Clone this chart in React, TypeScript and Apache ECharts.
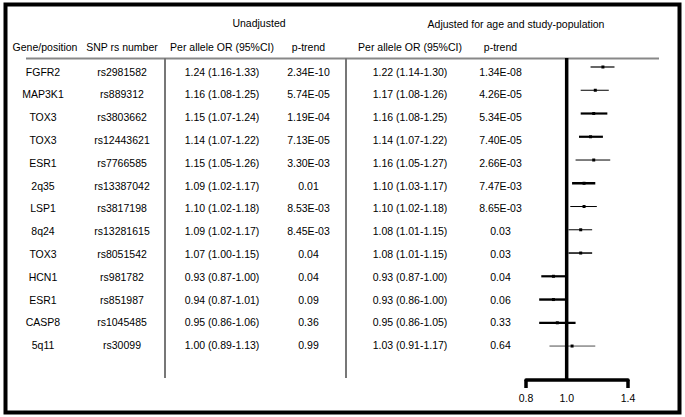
import React, { useEffect, useRef } from "react";
import * as echarts from "echarts";

const genes = ["FGFR2", "MAP3K1", "TOX3", "TOX3", "ESR1", "2q35", "LSP1", "8q24", "TOX3", "HCN1", "ESR1", "CASP8", "5q11"];
const snps = ["rs2981582", "rs889312", "rs3803662", "rs12443621", "rs7766585", "rs13387042", "rs3817198", "rs13281615", "rs8051542", "rs981782", "rs851987", "rs1045485", "rs30099"];
const unadjOR = [1.24, 1.16, 1.15, 1.14, 1.15, 1.09, 1.10, 1.09, 1.07, 0.93, 0.94, 0.95, 1.00];
const unadjLo = [1.16, 1.08, 1.07, 1.07, 1.05, 1.02, 1.02, 1.02, 1.00, 0.87, 0.87, 0.86, 0.89];
const unadjHi = [1.33, 1.25, 1.24, 1.22, 1.26, 1.17, 1.18, 1.17, 1.15, 1.00, 1.01, 1.06, 1.13];
const unadjP = ["2.34E-10", "5.74E-05", "1.19E-04", "7.13E-05", "3.30E-03", "0.01", "8.53E-03", "8.45E-03", "0.04", "0.04", "0.09", "0.36", "0.99"];
const adjOR = [1.22, 1.17, 1.16, 1.14, 1.16, 1.10, 1.10, 1.08, 1.08, 0.93, 0.93, 0.95, 1.03];
const adjLo = [1.14, 1.08, 1.08, 1.07, 1.05, 1.03, 1.02, 1.01, 1.01, 0.87, 0.86, 0.86, 0.91];
const adjHi = [1.30, 1.26, 1.25, 1.22, 1.27, 1.17, 1.18, 1.15, 1.15, 1.00, 1.00, 1.05, 1.17];
const adjP = ["1.34E-08", "4.26E-05", "5.34E-05", "7.40E-05", "2.66E-03", "7.47E-03", "8.65E-03", "0.03", "0.03", "0.04", "0.06", "0.33", "0.64"];
const ciWeights = [1.2, 1, 2.2, 2.2, 1, 2.5, 1, 1, 1.5, 2.2, 2.4, 2.2, 0.7];
const columnHeaders = ["Gene/position", "SNP rs number", "Per allele OR (95%CI)", "p-trend", "Per allele OR (95%CI)", "p-trend"];
const groupHeaders = ["Unadjusted", "Adjusted for age and study-population"];
const xTicks = [0.8, 1.4];
const xTickLabels = [0.8, 1.0, 1.4];

const fmt = (v: number) => v.toFixed(2);
const ciText = (o: number[], l: number[], h: number[]) =>
  o.map((v, i) => `${fmt(v)} (${fmt(l[i])}-${fmt(h[i])})`);

const FONT = "'Liberation Sans', Arial, sans-serif";
const FS = 10.5;

export default function App() {
  const ref = useRef<HTMLDivElement>(null);
  useEffect(() => {
    if (!ref.current) return;
    const chart = echarts.init(ref.current, null, { renderer: "svg" });
    const ANCHOR = 660;
    const colCenters = [43, 122, 222, 308.5, 410, 500.5];
    const colAxis = (data: string[], cx: number) => ({
      type: "category",
      gridIndex: 1,
      data,
      inverse: true,
      position: "left",
      offset: ANCHOR - cx,
      axisLine: { show: false },
      axisTick: { show: false },
      splitLine: { show: false },
      axisLabel: { margin: 0, align: "center", interval: 0, color: "#000", fontFamily: FONT, fontSize: FS },
    });
    const rows = adjOR.map((v, i) => [i, v, adjLo[i], adjHi[i]]);
    const yMin = -0.387;
    const yMax = 13.46;
    const txt = (text: string, x: number, y: number) => ({
      type: "text",
      x,
      y,
      style: { text, fill: "#000", font: `${FS}px ${FONT}`, textAlign: "center", textVerticalAlign: "middle" },
    });
    chart.setOption({
      animation: false,
      grid: [
        { left: 526, right: 57, top: 58, bottom: 37 },
        { left: ANCHOR, width: 10, top: 60.1, height: 296.4 },
      ],
      xAxis: [
        {
          type: "log",
          gridIndex: 0,
          logBase: 10,
          min: 0.8,
          max: 1.4,
          axisLine: { onZero: false, lineStyle: { color: "#000", width: 3.5 } },
          axisTick: { customValues: xTicks, length: 8, lineStyle: { color: "#000", width: 3.5 } },
          axisLabel: {
            customValues: xTickLabels,
            margin: 12,
            color: "#000",
            fontFamily: FONT,
            fontSize: FS,
            formatter: (v: number) => v.toFixed(1),
          },
          splitLine: { show: false },
        },
        { type: "value", gridIndex: 1, show: false, min: 0, max: 1 },
      ],
      yAxis: [
        { type: "value", gridIndex: 0, min: yMin, max: yMax, inverse: true, show: false },
        colAxis(genes, colCenters[0]),
        colAxis(snps, colCenters[1]),
        colAxis(ciText(unadjOR, unadjLo, unadjHi), colCenters[2]),
        colAxis(unadjP, colCenters[3]),
        colAxis(ciText(adjOR, adjLo, adjHi), colCenters[4]),
        colAxis(adjP, colCenters[5]),
      ],
      series: [
        {
          type: "line",
          xAxisIndex: 0,
          yAxisIndex: 0,
          data: [[1, yMin], [1, yMax]],
          symbol: "none",
          lineStyle: { color: "#000", width: 3.5 },
          silent: true,
        },
        {
          type: "custom",
          xAxisIndex: 0,
          yAxisIndex: 0,
          data: rows,
          renderItem: (params: any, api: any) => {
            const i = api.value(0);
            const p = api.coord([api.value(1), i]);
            const a = api.coord([api.value(2), i]);
            const b = api.coord([api.value(3), i]);
            return {
              type: "group",
              children: [
                { type: "line", shape: { x1: a[0], y1: a[1], x2: b[0], y2: b[1] }, style: { stroke: "#000", lineWidth: ciWeights[i] } },
                { type: "rect", shape: { x: p[0] - 1.5, y: p[1] - 1.5, width: 3, height: 3 }, style: { fill: "#000" } },
              ],
            };
          },
        },
      ],
      graphic: [
        { type: "rect", shape: { x: 5.5, y: 4.5, width: 674, height: 408 }, style: { fill: "none", stroke: "#000", lineWidth: 4 }, silent: true },
        { type: "line", shape: { x1: 26, y1: 58.5, x2: 659, y2: 58.5 }, style: { stroke: "#888", lineWidth: 2 } },
        { type: "line", shape: { x1: 165, y1: 58, x2: 165, y2: 378 }, style: { stroke: "#777", lineWidth: 2 } },
        { type: "line", shape: { x1: 346, y1: 58, x2: 346, y2: 378 }, style: { stroke: "#777", lineWidth: 2 } },
        txt(groupHeaders[0], 259, 23),
        txt(groupHeaders[1], 516, 23.5),
        ...columnHeaders.map((h, k) => txt(h, colCenters[k] + (k === 0 ? 2 : 0), 47)),
      ],
    });
    return () => chart.dispose();
  }, []);
  return <div ref={ref} style={{ position: "fixed", left: 0, top: 0, width: 685, height: 417, background: "#fff" }} />;
}
